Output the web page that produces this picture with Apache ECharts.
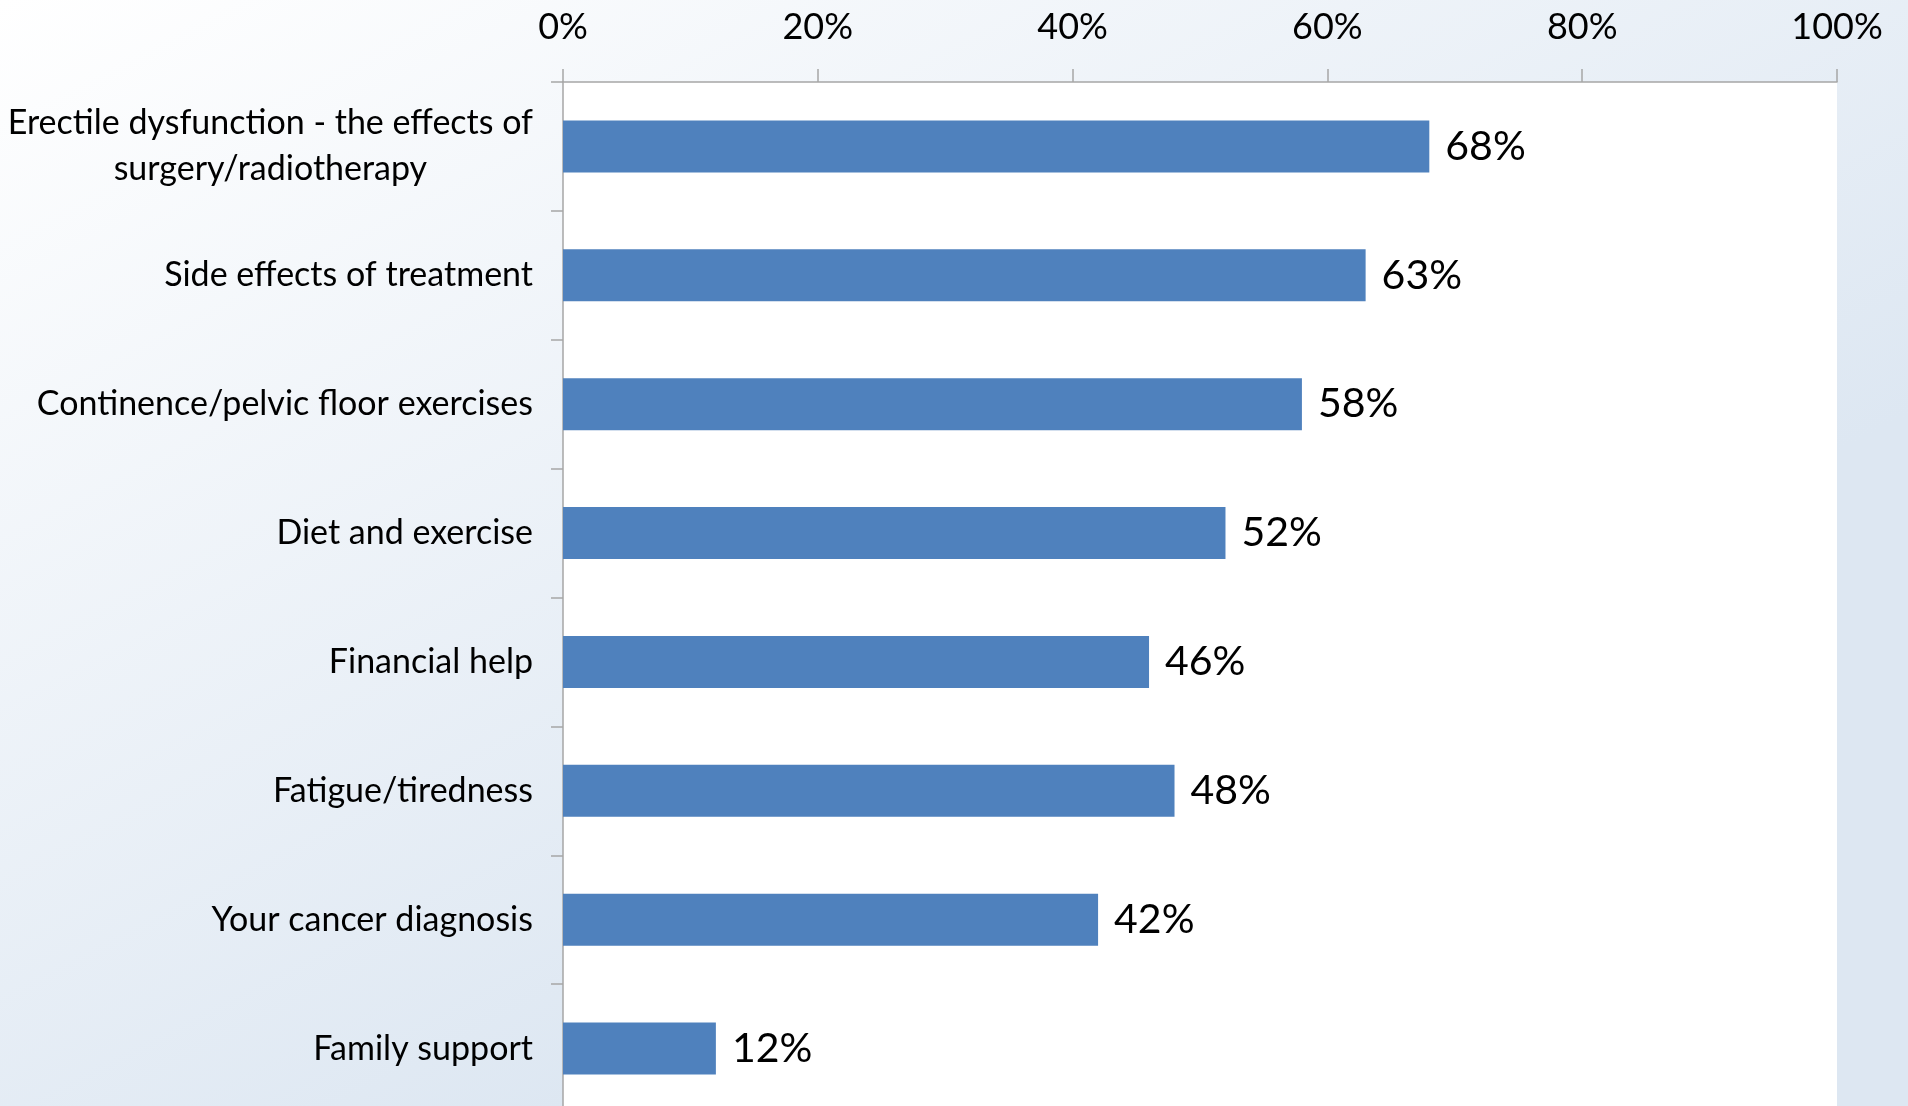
<!DOCTYPE html>
<html>
<head>
<meta charset="utf-8">
<script src="https://cdn.jsdelivr.net/npm/echarts@6/dist/echarts.min.js"></script>
<style>
  html, body { margin: 0; padding: 0; }
  #chart { width: 1908px; height: 1106px; }
</style>
</head>
<body>
<div id="chart"></div>
<script>
const categories = [
  'Erectile dysfunction - the effects of\nsurgery/radiotherapy',
  'Side effects of treatment',
  'Continence/pelvic floor exercises',
  'Diet and exercise',
  'Financial help',
  'Fatigue/tiredness',
  'Your cancer diagnosis',
  'Family support'
];
const percentValues = [68, 63, 58, 52, 46, 48, 42, 12];
const tickMin = 0;
const tickMax = 100;
const tickStep = 20;

const fontFamily = 'Lato, "Open Sans", sans-serif';
const axisGray = '#a6a6a6';

const chart = echarts.init(document.getElementById('chart'), null, { renderer: 'canvas' });

const option = {
  animation: false,
  backgroundColor: {
    type: 'linear', x: 0, y: 0, x2: 0.3, y2: 1,
    colorStops: [
      { offset: 0, color: '#ffffff' },
      { offset: 1, color: '#dde7f2' }
    ]
  },
  grid: {
    left: 563,
    right: 71,
    top: 82,
    height: 1031,
    outerBoundsMode: 'none',
    containLabel: false,
    show: true,
    backgroundColor: '#ffffff',
    borderWidth: 0
  },
  xAxis: {
    type: 'value',
    position: 'top',
    min: tickMin,
    max: tickMax,
    interval: tickStep,
    axisLine: { show: true, lineStyle: { color: axisGray, width: 1.5 } },
    axisTick: { show: true, length: 13, lineStyle: { color: axisGray, width: 1.5 } },
    splitLine: { show: false },
    axisLabel: {
      formatter: '{value}%',
      color: '#000',
      fontFamily,
      fontSize: 36,
      margin: 37
    }
  },
  yAxis: {
    type: 'category',
    data: categories,
    inverse: true,
    axisLine: { show: true, lineStyle: { color: axisGray, width: 1.5 } },
    axisTick: { show: true, length: 12, lineStyle: { color: axisGray, width: 1.5 } },
    axisLabel: {
      color: '#000',
      fontFamily,
      fontSize: 34,
      margin: 30,
      lineHeight: 46,
      formatter: (val) => val.split('\n').map(s => '{c|' + s + '}').join('\n'),
      rich: {
        c: { align: 'center', fontFamily, fontSize: 34, color: '#000', lineHeight: 46 }
      }
    }
  },
  series: [
    {
      type: 'bar',
      data: percentValues,
      barWidth: 52,
      itemStyle: { color: '#4f81bd' },
      label: {
        show: true,
        position: 'right',
        distance: 16,
        formatter: '{c}%',
        color: '#000',
        fontFamily,
        fontSize: 41
      }
    }
  ]
};

chart.setOption(option);
</script>
</body>
</html>
